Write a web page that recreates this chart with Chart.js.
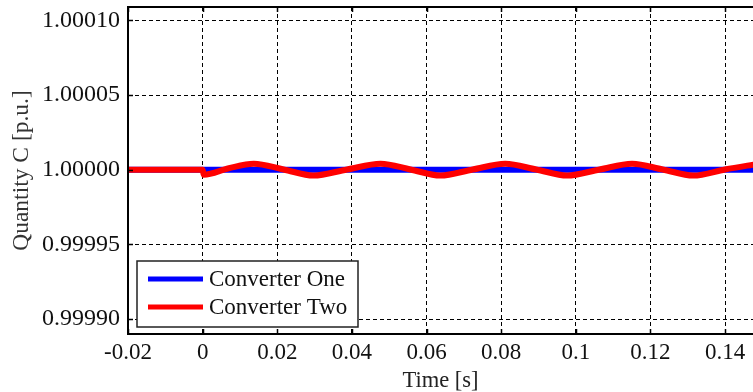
<!DOCTYPE html>
<html>
<head>
<meta charset="utf-8">
<script src="https://cdn.jsdelivr.net/npm/chart.js@4/dist/chart.umd.min.js"></script>
<style>
  html, body { margin: 0; padding: 0; background: #fff; }
  #wrap { width: 753px; height: 392px; }
</style>
</head>
<body>
<div id="wrap"><canvas id="quantityChart" width="753" height="392"></canvas></div>
<script>
// values
const timeRed = [-0.02, 0, 0.0003, 0.007, 0.0137, 0.0217, 0.0297, 0.0387, 0.0477, 0.0557, 0.0637,
  0.0724, 0.0811, 0.0894, 0.0977, 0.1064, 0.1151, 0.1233, 0.1315, 0.1400, 0.1490];
const converterTwo = [1, 1, 0.9999966, 1.0000010, 1.0000040, 1.0000002, 0.9999961, 1.0000002, 1.0000040,
  1.0000002, 0.9999961, 1.0000002, 1.0000040, 1.0000002, 0.9999961, 1.0000002, 1.0000040, 1.0000002,
  0.9999961, 1.0000002, 1.0000040];
const timeBlue = [-0.02, 0.149];
const converterOne = [1, 1];
const seriesLabels = ["Converter One", "Converter Two"];
const xTicks = [-0.02, 0, 0.02, 0.04, 0.06, 0.08, 0.1, 0.12, 0.14];
const yTicks = [0.9999, 0.99995, 1, 1.00005, 1.0001];

const FONT = "'Liberation Serif', 'Times New Roman', serif";

let toPoints = function(xs, ys) {
  let pts = [];
  for (let i = 0; i < xs.length; i++) {
    pts.push({x: xs[i], y: ys[i]});
  }
  return pts;
};

// frame + legend box drawn by hand, like the matlab figure
const framePlugin = {
  id: "frame",
  afterDraw: function(chart) {
    let ctx = chart.ctx;
    let a = chart.chartArea;
    ctx.save();
    ctx.strokeStyle = "#000";
    ctx.lineWidth = 2;
    ctx.beginPath();
    ctx.moveTo(a.right + 2, a.top);
    ctx.lineTo(a.left, a.top);
    ctx.lineTo(a.left, a.bottom);
    ctx.lineTo(a.right + 2, a.bottom);
    ctx.stroke();

    // small inward tick marks
    ctx.lineWidth = 1.5;
    let xs = chart.scales.x, ys = chart.scales.y;
    ctx.beginPath();
    for (let t of xTicks) {
      let px = Math.round(xs.getPixelForValue(t)) + 0.5;
      ctx.moveTo(px, a.bottom); ctx.lineTo(px, a.bottom - 5);
      ctx.moveTo(px, a.top); ctx.lineTo(px, a.top + 5);
    }
    for (let t of yTicks) {
      let py = Math.round(ys.getPixelForValue(t)) + 0.5;
      ctx.moveTo(a.left, py); ctx.lineTo(a.left + 5, py);
    }
    ctx.stroke();

    // legend
    let bx = 137, by = 261, bw = 221, bh = 66;
    ctx.fillStyle = "#fff";
    ctx.fillRect(bx, by, bw, bh);
    ctx.strokeStyle = "#222";
    ctx.lineWidth = 1.5;
    ctx.strokeRect(bx, by, bw, bh);
    let rows = [279, 307];
    chart.data.datasets.forEach(function(ds, i) {
      ctx.strokeStyle = ds.borderColor;
      ctx.lineWidth = 5;
      ctx.beginPath();
      ctx.moveTo(148, rows[i]);
      ctx.lineTo(203, rows[i]);
      ctx.stroke();
      ctx.fillStyle = "#111";
      ctx.font = "23px " + FONT;
      ctx.textBaseline = "middle";
      ctx.textAlign = "left";
      ctx.fillText(ds.label, 209, rows[i] + 1);
    });
    ctx.restore();
  }
};

new Chart("quantityChart", {
  type: "line",
  data: {
    datasets: [{
      label: seriesLabels[0],
      data: toPoints(timeBlue, converterOne),
      borderColor: "#0000ff",
      borderWidth: 6,
      pointRadius: 0,
      order: 1
    },
    {
      label: seriesLabels[1],
      data: toPoints(timeRed, converterTwo),
      borderColor: "#ff0000",
      borderWidth: 6,
      pointRadius: 0,
      cubicInterpolationMode: "monotone",
      order: 0
    }]
  },
  options: {
    responsive: false,
    animation: false,
    layout: { padding: { top: 7, right: 0, left: 0, bottom: 0 } },
    plugins: { legend: { display: false }, tooltip: { enabled: false } },
    scales: {
      x: {
        type: "linear",
        min: -0.02,
        max: 0.1475,
        afterFit: function(scale) {
          scale.height = 58;
          scale.paddingLeft = 0;
          scale.paddingRight = 0;
        },
        afterBuildTicks: function(scale) { scale.ticks = xTicks.map(v => ({value: v})); },
        ticks: {
          padding: 5,
          color: "#111",
          font: { family: FONT, size: 23 },
          callback: function(v) { return Number(v.toFixed(2)).toString(); }
        },
        grid: { color: "#000", lineWidth: 1, drawTicks: false },
        border: { display: false, dash: [4, 3] },
        title: {
          display: true,
          text: "Time [s]",
          color: "#222",
          font: { family: FONT, size: 22.5, lineHeight: 1.0 },
          padding: { top: 0, bottom: 0 }
        }
      },
      y: {
        min: 0.99989,
        max: 1.000109,
        afterFit: function(scale) {
          scale.width = 128;
          scale.paddingTop = 0;
          scale.paddingBottom = 0;
        },
        afterBuildTicks: function(scale) { scale.ticks = yTicks.map(v => ({value: v})); },
        ticks: {
          padding: 8,
          color: "#111",
          font: { family: FONT, size: 24 },
          callback: function(v) { return v.toFixed(5); }
        },
        grid: { color: "#000", lineWidth: 1, drawTicks: false },
        border: { display: false, dash: [4, 3] },
        title: {
          display: true,
          text: "Quantity C [p.u.]",
          color: "#333",
          font: { family: FONT, size: 23.5, lineHeight: 1.0 },
          padding: { top: 10, bottom: 0 }
        }
      }
    }
  },
  plugins: [framePlugin]
});
</script>
</body>
</html>
